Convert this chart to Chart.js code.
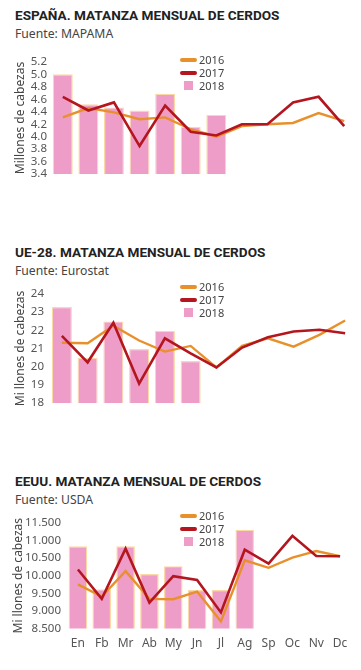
<!DOCTYPE html>
<html>
<head>
<meta charset="utf-8">
<script src="https://cdn.jsdelivr.net/npm/chart.js@4.4.0/dist/chart.umd.min.js"></script>
<style>
  body { margin: 0; background: #fff; width: 361px; height: 670px; position: relative; overflow: hidden; }
  .title { position: absolute; left: 15px; font-family: Roboto, sans-serif; font-weight: 700; font-size: 13.6px; color: #222; white-space: nowrap; }
  .source { position: absolute; left: 15px; font-family: "Noto Sans", sans-serif; font-size: 12.2px; color: #444; white-space: nowrap; }
  .box { position: absolute; left: 0; width: 361px; }
  .legend { position: absolute; left: 180px; font-family: "Noto Sans", sans-serif; font-size: 11px; color: #444; line-height: 13px; }
  .legend div { display: flex; align-items: center; height: 13px; }
  .legend .ln { width: 17px; height: 4px; border-radius: 2px; margin-right: 2px; }
  .legend .sq { width: 9px; height: 9px; margin: 0 6px 0 4px; }
</style>
</head>
<body>
<script>
var months = ['En', 'Fb', 'Mr', 'Ab', 'My', 'Jn', 'Jl', 'Ag', 'Sp', 'Oc', 'Nv', 'Dc'];
var years = ['2016', '2017', '2018'];

var espana2016 = [4.31, 4.46, 4.39, 4.28, 4.31, 4.12, 4.00, 4.17, 4.20, 4.22, 4.38, 4.25];
var espana2017 = [4.64, 4.42, 4.55, 3.85, 4.50, 4.08, 4.02, 4.20, 4.20, 4.55, 4.64, 4.17];
var espana2018 = [5.00, 4.52, 4.47, 4.42, 4.69, 4.16, 4.35, null, null, null, null, null];

var ue2016 = [21.32, 21.29, 22.25, 21.44, 20.83, 21.14, 19.96, 21.14, 21.56, 21.10, 21.75, 22.54];
var ue2017 = [21.69, 20.24, 22.41, 19.07, 21.56, 20.73, 19.96, 21.05, 21.62, 21.93, 22.03, 21.84];
var ue2018 = [23.28, 20.49, 22.49, 20.97, 21.97, 20.31, null, null, null, null, null, null];

var eeuu2016 = [9756, 9409, 10131, 9344, 9334, 9550, 8706, 10440, 10225, 10516, 10703, 10553];
var eeuu2017 = [10178, 9344, 10769, 9240, 9990, 9878, 8959, 10740, 10347, 11134, 10562, 10553];
var eeuu2018 = [10834, 9616, 10834, 10047, 10272, 9597, 9597, 11303, null, null, null, null];

var colors = { y2016: '#e8912c', y2017: '#b4161f', bar: '#ee9cc8', barEdge: '#fbd9a6' };

function thousands(v) {
    return String(v).replace(/\B(?=(\d{3})+(?!\d))/g, '.');
}

function addText(cls, text, top) {
    var d = document.createElement('div');
    d.className = cls;
    d.style.top = top + 'px';
    d.textContent = text;
    document.body.appendChild(d);
}

function addLegend(top) {
    var lg = document.createElement('div');
    lg.className = 'legend';
    lg.style.top = top + 'px';
    var sw = [['ln', colors.y2016], ['ln', colors.y2017], ['sq', colors.bar]];
    years.forEach(function (y, i) {
        var row = document.createElement('div');
        var s = document.createElement('span');
        s.className = sw[i][0];
        s.style.background = sw[i][1];
        row.appendChild(s);
        row.appendChild(document.createTextNode(y));
        lg.appendChild(row);
    });
    document.body.appendChild(lg);
}

function makeChart(cfg) {
    addText('title', cfg.title, cfg.titleTop);
    addText('source', cfg.source, cfg.titleTop + 18);

    var box = document.createElement('div');
    box.className = 'box';
    box.style.top = cfg.top + 'px';
    box.style.height = cfg.height + 'px';
    var cv = document.createElement('canvas');
    box.appendChild(cv);
    document.body.appendChild(box);

    new Chart(cv, {
        type: 'bar',
        data: {
            labels: months,
            datasets: [{
                type: 'line',
                label: years[1],
                data: cfg.d2017,
                borderColor: colors.y2017,
                borderWidth: 2.6,
                pointRadius: 0,
                tension: 0,
                order: 0
            }, {
                type: 'line',
                label: years[0],
                data: cfg.d2016,
                borderColor: colors.y2016,
                borderWidth: 2.4,
                pointRadius: 0,
                tension: 0,
                order: 1
            }, {
                label: years[2],
                data: cfg.d2018,
                backgroundColor: colors.bar,
                borderColor: colors.barEdge,
                borderWidth: 1.2,
                barPercentage: 0.78,
                categoryPercentage: 1,
                order: 2
            }]
        },
        options: {
            responsive: true,
            maintainAspectRatio: false,
            animation: false,
            layout: { padding: cfg.padding },
            plugins: { legend: { display: false }, tooltip: { enabled: false } },
            scales: {
                x: {
                    display: cfg.showX,
                    grid: { display: false, drawTicks: false },
                    border: { display: false },
                    ticks: { color: '#555', font: { family: 'Noto Sans', size: 12 }, padding: 8 }
                },
                y: {
                    min: cfg.min,
                    max: cfg.max,
                    grid: { display: false, drawTicks: false },
                    border: { display: false },
                    afterFit: function (s) { s.width = cfg.axisWidth; },
                    title: {
                        display: true,
                        text: cfg.yTitle,
                        color: '#444',
                        font: { family: 'Noto Sans', size: 12 },
                        padding: 0
                    },
                    ticks: {
                        stepSize: cfg.step,
                        autoSkip: false,
                        color: '#555',
                        padding: cfg.tickPad,
                        font: { family: 'Noto Sans', size: 11.5 },
                        callback: cfg.fmt
                    }
                }
            }
        }
    });
    addLegend(cfg.legendTop);
}

document.addEventListener('DOMContentLoaded', function () {
    makeChart({
        title: 'ESPAÑA. MATANZA MENSUAL DE CERDOS',
        source: 'Fuente: MAPAMA',
        titleTop: 7,
        top: 52, height: 132,
        padding: { left: 13, right: 4, top: 3, bottom: 1 },
        axisWidth: 37,
        tickPad: 3,
        showX: false,
        min: 3.4, max: 5.2, step: 0.2,
        fmt: function (v) { return v.toFixed(1); },
        yTitle: 'Millones de cabezas',
        d2016: espana2016, d2017: espana2017, d2018: espana2018,
        legendTop: 53
    });
    makeChart({
        title: 'UE-28. MATANZA MENSUAL DE CERDOS',
        source: 'Fuente: Eurostat',
        titleTop: 244,
        top: 282, height: 133,
        padding: { left: 13, right: 3, top: 3, bottom: 2 },
        axisWidth: 36,
        tickPad: 5,
        showX: false,
        min: 18, max: 24, step: 1,
        fmt: function (v) { return v; },
        yTitle: 'Mi llones de cabezas',
        d2016: ue2016, d2017: ue2017, d2018: ue2018,
        legendTop: 280
    });
    makeChart({
        title: 'EEUU. MATANZA MENSUAL DE CERDOS',
        source: 'Fuente: USDA',
        titleTop: 473,
        top: 511, height: 150,
        padding: { left: 11, right: 9, top: 3, bottom: 2 },
        axisWidth: 55,
        tickPad: 5,
        showX: true,
        min: 8500, max: 11500, step: 500,
        fmt: function (v) { return thousands(v); },
        yTitle: 'Mi llones de cabezas',
        d2016: eeuu2016, d2017: eeuu2017, d2018: eeuu2018,
        legendTop: 509
    });
});
</script>
</body>
</html>
